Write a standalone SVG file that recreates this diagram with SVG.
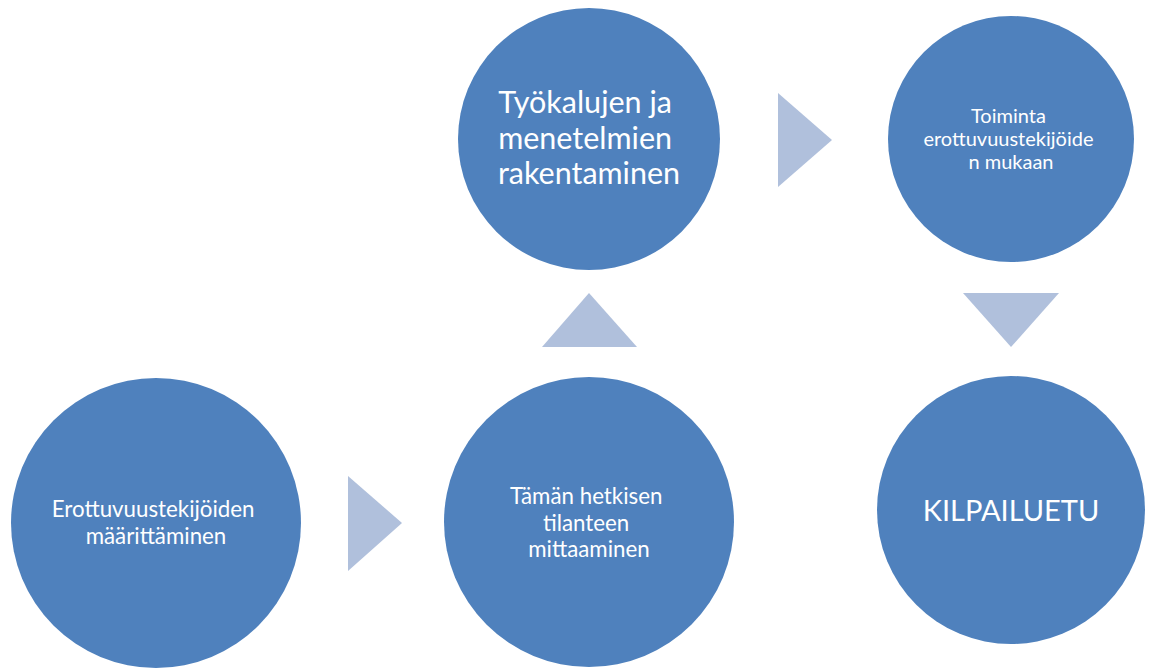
<svg xmlns="http://www.w3.org/2000/svg" width="1149" height="671" viewBox="0 0 1149 671">
  <style>
    .node { fill: #4F81BD; }
    .arrow { fill: #B0C0DC; }
    .label { fill: #FFFFFF; font-family: Lato, "Open Sans", "Liberation Sans", sans-serif; text-anchor: middle; }
  </style>
  <rect width="1149" height="671" fill="#FFFFFF"/>

  <g id="connectors">
    <polygon class="arrow" points="348,476 348,571 402,523"/>
    <polygon class="arrow" points="542,347 637,347 589,293"/>
    <polygon class="arrow" points="778,93 778,187 832,140"/>
    <polygon class="arrow" points="963,293 1059,293 1011,347"/>
  </g>

  <g id="node-erottuvuustekijoiden-maarittaminen">
    <circle class="node" cx="156" cy="523" r="145"/>
    <text class="label" font-size="22.3">
      <tspan x="156" y="517">Erottuvuustekijöiden</tspan>
      <tspan x="156" y="544">määrittäminen</tspan>
    </text>
  </g>

  <g id="node-taman-hetkisen-tilanteen">
    <circle class="node" cx="589" cy="522" r="145"/>
    <text class="label" font-size="22.3">
      <tspan x="589" y="504">Tämän hetkisen</tspan>
      <tspan x="589" y="531">tilanteen</tspan>
      <tspan x="589" y="557">mittaaminen</tspan>
    </text>
  </g>

  <g id="node-tyokalujen-rakentaminen">
    <circle class="node" cx="589" cy="139" r="131"/>
    <text class="label" font-size="30.5">
      <tspan x="589" y="113">Työkalujen ja</tspan>
      <tspan x="589" y="149">menetelmien</tspan>
      <tspan x="589" y="184">rakentaminen</tspan>
    </text>
  </g>

  <g id="node-toiminta">
    <circle class="node" cx="1011" cy="139" r="123"/>
    <text class="label" font-size="20">
      <tspan x="1011" y="123">Toiminta</tspan>
      <tspan x="1011" y="146">erottuvuustekijöide</tspan>
      <tspan x="1011" y="169">n mukaan</tspan>
    </text>
  </g>

  <g id="node-kilpailuetu">
    <circle class="node" cx="1011" cy="510" r="134"/>
    <text class="label" font-size="29" x="1011" y="521">KILPAILUETU</text>
  </g>
</svg>
